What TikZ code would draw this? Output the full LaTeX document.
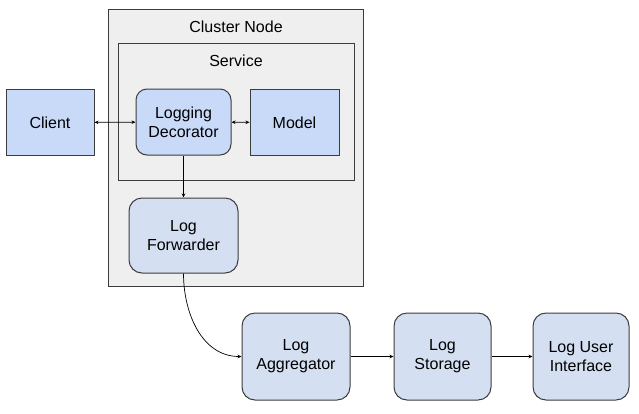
\documentclass[tikz,border=0pt]{standalone}
\usepackage{fontspec}
\setmainfont{Liberation Sans}
\usepackage{tikz}
\usetikzlibrary{arrows.meta}
\definecolor{boxblue}{HTML}{C9DAF8}
\definecolor{logblue}{HTML}{D4DFF2}
\definecolor{panelgray}{HTML}{EFEFEF}
\definecolor{edgegray}{HTML}{3C3C3C}

\begin{document}
\begin{tikzpicture}[x=1pt,y=-1pt,font=\fontsize{16}{19}\selectfont,
  panel/.style={draw=edgegray,fill=panelgray,line width=1pt,inner sep=0pt},
  sqbox/.style={draw=edgegray,fill=boxblue,line width=1pt,align=center,inner sep=0pt},
  rndbox/.style={sqbox,rounded corners=11pt},
  logbox/.style={sqbox,fill=logblue,rounded corners=13pt},
  link/.style={line width=0.7pt,-{Stealth[length=4pt,width=3.5pt]}},
  bilink/.style={line width=0.7pt,{Stealth[length=4pt,width=3.5pt]}-{Stealth[length=4pt,width=3.5pt]}}]
  \useasboundingbox (0,0) rectangle (639,413);
  % cluster and service frames
  \node[panel,minimum width=255,minimum height=277] (cluster) at (235.5,147.5) {};
  \node (clustertitle) at (236,27) {Cluster Node};
  \node[panel,minimum width=236,minimum height=137] (service) at (236,111.5) {};
  \node (servicetitle) at (236,61) {Service};
  % boxes
  \node[sqbox,minimum width=88,minimum height=66] (client) at (50,122.5) {Client};
  \node[rndbox,minimum width=95,minimum height=66] (decorator) at (183.5,122) {Logging\\Decorator};
  \node[sqbox,minimum width=89,minimum height=66] (model) at (294.5,122.5) {Model};
  \node[logbox,minimum width=109,minimum height=75] (forwarder) at (183.5,235.5) {Log\\Forwarder};
  \node[logbox,minimum width=108,minimum height=87] (aggregator) at (296,356.5) {Log\\Aggregator};
  \node[logbox,minimum width=97,minimum height=87] (storage) at (442.5,356.5) {Log\\Storage};
  \node[logbox,minimum width=96,minimum height=87] (ui) at (581,356.5) {Log User\\Interface};
  % connectors
  \draw[bilink] (client) -- (decorator);
  \draw[bilink] (decorator) -- (model);
  \draw[link] (decorator) -- (forwarder);
  \draw[link] (forwarder.south) to[out=-90,in=180] (aggregator.west);
  \draw[link] (aggregator) -- (storage);
  \draw[link] (storage) -- (ui);
\end{tikzpicture}
\end{document}
